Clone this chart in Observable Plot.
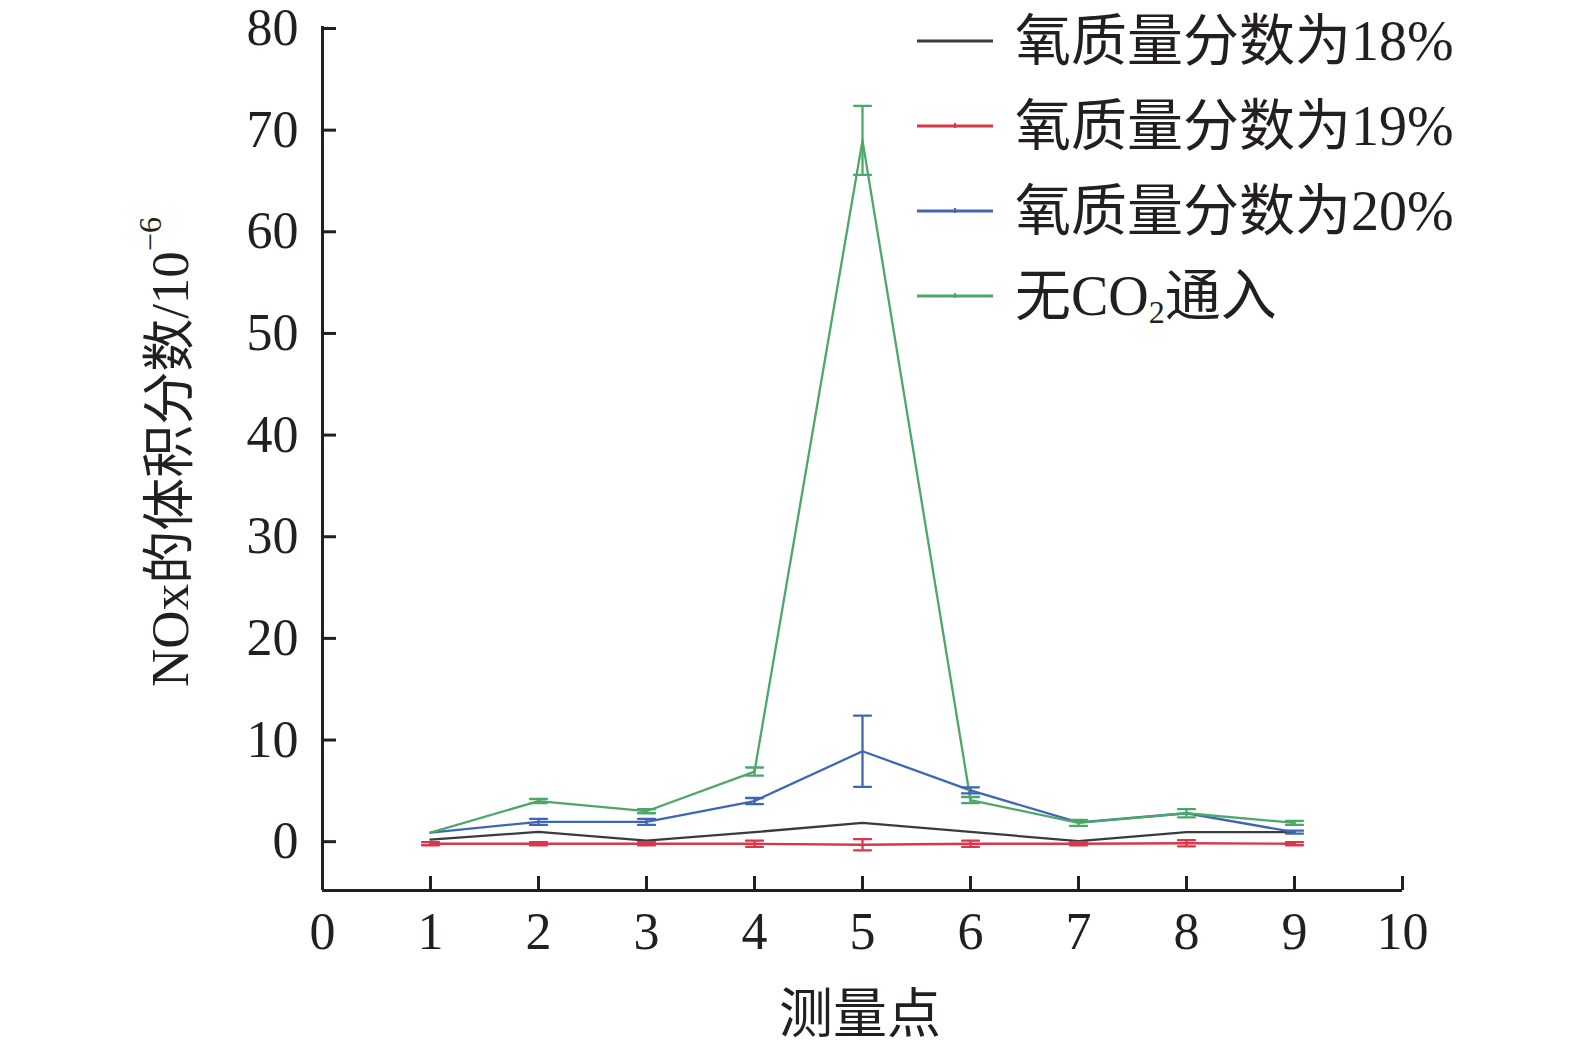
<!DOCTYPE html>
<html>
<head>
<meta charset="utf-8">
<script src="https://cdn.jsdelivr.net/npm/d3@7"></script>
<script src="https://cdn.jsdelivr.net/npm/@observablehq/plot@0.6"></script>
<style>
  html, body { margin: 0; padding: 0; background: #fff; overflow: hidden; }
  #wrap { position: relative; width: 1575px; height: 1050px; overflow: hidden; }
  #chart svg { display: block; max-width: none !important; }
  #legend { position: absolute; left: 0; top: 0; width: 1575px; height: 0; font-family: "Liberation Serif", "Noto Sans CJK SC", serif; font-size: 56px; color: #231f20; }
  .lg-line { position: absolute; left: 917px; width: 76px; height: 12px; }
  .lg-text { position: absolute; left: 1015px; line-height: 60px; height: 60px; white-space: nowrap; }
  .lg-text sub { font-size: 32px; vertical-align: -8px; line-height: 0; }
</style>
</head>
<body>
<div id="wrap"><div id="chart"></div><div id="legend"></div></div>
<script>
// ---- data ----
const points = [1, 2, 3, 4, 5, 6, 7, 8, 9];
const xTicks = [0, 1, 2, 3, 4, 5, 6, 7, 8, 9, 10];
const yTicks = [0, 10, 20, 30, 40, 50, 60, 70, 80];

const seriesNames = ["氧质量分数为18%", "氧质量分数为19%", "氧质量分数为20%", "无CO2通入"];
const seriesColors = ["#3b3b3d", "#d9374b", "#3f66b5", "#4ca769"];

const o18 = [0.0, 0.77, -0.1, 0.74, 1.65, 0.77, -0.15, 0.75, 0.75];
const o18err = [0, 0, 0, 0, 0, 0, 0, 0, 0];
const o19 = [-0.4, -0.4, -0.4, -0.4, -0.5, -0.4, -0.4, -0.35, -0.4];
const o19err = [0.15, 0.15, 0.15, 0.3, 0.55, 0.3, 0.15, 0.3, 0.15];
const o20 = [0.7, 1.75, 1.75, 3.8, 8.7, 4.85, 1.7, 2.6, 0.74];
const o20err = [0, 0.3, 0.3, 0.3, 3.5, 0.3, 0, 0, 0.15];
const noCO2 = [0.7, 3.8, 2.8, 6.7, 68.8, 3.9, 1.65, 2.6, 1.65];
const noCO2err = [0, 0.2, 0.2, 0.4, 3.4, 0.3, 0.3, 0.4, 0.2];

const seriesValues = [o18, o19, o20, noCO2];
const seriesErrors = [o18err, o19err, o20err, noCO2err];

// ---- table ----
const rows = [];
seriesValues.forEach((vals, s) => {
  vals.forEach((v, i) => rows.push({series: seriesNames[s], x: points[i], y: v, err: seriesErrors[s][i]}));
});
const errRows = rows.filter(d => d.err > 0);
const capRows = errRows.flatMap(d => [{...d, cy: d.y + d.err}, {...d, cy: d.y - d.err}]);

const ink = "#231f20";
const capShape = {draw(context, l) { context.moveTo(0, 0); context.lineTo(0, -l); }};
const color = {domain: seriesNames, range: seriesColors};

const plot = Plot.plot({
  width: 1575,
  height: 1050,
  marginLeft: 322,
  marginRight: 173,
  marginTop: 26,
  marginBottom: 160,
  style: {fontFamily: '"Liberation Serif", "Noto Sans CJK SC", serif', fontSize: "52px", color: ink, background: "#fff"},
  x: {domain: [0, 10]},
  y: {domain: [-5, 80]},
  color,
  marks: [
    Plot.ruleX([0], {stroke: ink, strokeWidth: 3}),
    Plot.ruleY([-5], {stroke: ink, strokeWidth: 3}),
    Plot.axisX({ticks: xTicks, tickSize: -14, tickPadding: 36, strokeWidth: 3, stroke: ink, fill: ink, label: null, fontSize: 52, tickFormat: d => String(d)}),
    Plot.axisY({ticks: yTicks, tickSize: -14, tickPadding: 38, strokeWidth: 3, stroke: ink, fill: ink, label: null, fontSize: 52, dy: 2, tickFormat: d => String(d)}),
    Plot.line(rows, {x: "x", y: "y", z: "series", stroke: "series", strokeWidth: 2.3}),
    Plot.ruleX(errRows, {x: "x", y1: d => d.y - d.err, y2: d => d.y + d.err, stroke: "series", strokeWidth: 2.3}),
    Plot.vector(capRows, {x: "x", y: "cy", length: 17, rotate: 90, anchor: "middle", shape: capShape, stroke: "series", strokeWidth: 2.3})
  ]
});
plot.style.maxWidth = "none";
document.getElementById("chart").appendChild(plot);

// axis titles
const svg = d3.select(plot);
svg.append("text")
  .attr("x", 860).attr("y", 1015)
  .attr("text-anchor", "middle").attr("dominant-baseline", "central")
  .attr("fill", ink)
  .style("font-family", '"Liberation Serif", "Noto Sans CJK SC", serif')
  .style("font-size", "54px")
  .text("测量点");

const yt = svg.append("text")
  .attr("transform", "translate(170,452) rotate(-90)")
  .attr("text-anchor", "middle").attr("dominant-baseline", "central")
  .attr("fill", ink)
  .style("font-family", '"Liberation Serif", "Noto Sans CJK SC", serif')
  .style("font-size", "53px");
yt.append("tspan").text("NOx的体积分数/10");
yt.append("tspan").attr("dy", "-20").style("font-size", "32px").text("−6");

// legend
const legend = d3.select("#legend");
seriesNames.forEach((name, i) => {
  const cy = 41 + 85 * i;
  const ls = legend.append("svg").attr("class", "lg-line").style("top", (cy - 6) + "px")
    .attr("width", 76).attr("height", 12);
  ls.append("line").attr("x1", 0).attr("x2", 76).attr("y1", 6).attr("y2", 6)
    .attr("stroke", seriesColors[i]).attr("stroke-width", 3);
  if (i > 0) ls.append("line").attr("x1", 38).attr("x2", 38).attr("y1", 3).attr("y2", 8)
    .attr("stroke", seriesColors[i]).attr("stroke-width", 2);
  const t = legend.append("div").attr("class", "lg-text").style("top", (cy - 30) + "px");
  if (name === "无CO2通入") {
    t.html("无CO<sub>2</sub>通入");
  } else {
    t.text(name);
  }
});
</script>
</body>
</html>
